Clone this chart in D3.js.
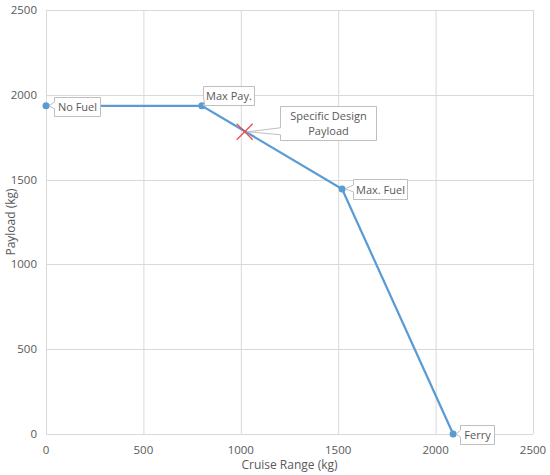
<!DOCTYPE html>
<html lang="en">
<head>
<meta charset="UTF-8">
<script src="https://d3js.org/d3.v7.min.js"></script>
<style>
body { margin: 0; background: #fff; }
text { font-family: "Open Sans", "Noto Sans", sans-serif; fill: #595959; }
</style>
</head>
<body>
<svg id="chart" width="550" height="475"></svg>
<script>
// payload-range points
var names = ["No Fuel", "Max Pay.", "Max. Fuel", "Ferry"]
var range = [0, 800, 1520, 2090]
var payload = [1935, 1935, 1445, 0]
var design = {name: "Specific Design\nPayload", range: 1020, payload: 1782}
var xTicks = [0, 500, 1000, 1500, 2000, 2500]
var yTicks = [0, 500, 1000, 1500, 2000, 2500]

// callout boxes: offset of box from the point (px), width, height
var boxes = [
    {dx: 8, dy: -9, w: 46, h: 19},
    {dx: 1, dy: -20, w: 51, h: 19},
    {dx: 11, dy: -10, w: 54, h: 20},
    {dx: 7, dy: -9, w: 34, h: 19}
]
var designBox = {dx: 35, dy: -26, w: 96, h: 34}

var svg = d3.select("#chart"),
    margin = {top: 10, right: 17, bottom: 41, left: 46},
    width = +svg.attr("width") - margin.left - margin.right,
    height = +svg.attr("height") - margin.top - margin.bottom

var x = d3.scaleLinear().domain([0, 2500]).range([margin.left, margin.left + width])
var y = d3.scaleLinear().domain([0, 2500]).range([margin.top + height, margin.top])

// grid
svg.append("g").selectAll("line").data(xTicks).join("line")
    .attr("x1", d => x(d) + 0.5).attr("x2", d => x(d) + 0.5)
    .attr("y1", y(2500)).attr("y2", y(0))
    .attr("stroke", "#d9d9d9")
svg.append("g").selectAll("line").data(yTicks).join("line")
    .attr("y1", d => Math.round(y(d)) + 0.5).attr("y2", d => Math.round(y(d)) + 0.5)
    .attr("x1", x(0)).attr("x2", x(2500))
    .attr("stroke", "#d9d9d9")

// tick labels
svg.append("g").selectAll("text").data(xTicks).join("text")
    .attr("x", d => x(d)).attr("y", y(0) + 20)
    .attr("text-anchor", "middle").attr("font-size", 11.5)
    .text(d => d)
svg.append("g").selectAll("text").data(yTicks).join("text")
    .attr("x", x(0) - 9).attr("y", d => y(d) + 4)
    .attr("text-anchor", "end").attr("font-size", 11.5)
    .text(d => d)

// axis titles
svg.append("text")
    .attr("x", x(1250)).attr("y", 469)
    .attr("text-anchor", "middle").attr("font-size", 12)
    .text("Cruise Range (kg)")
svg.append("text")
    .attr("transform", `translate(15,${y(1250)}) rotate(-90)`)
    .attr("text-anchor", "middle").attr("font-size", 12)
    .text("Payload (kg)")

// line + markers
var pts = range.map((r, i) => [x(r), y(payload[i])])
svg.append("path")
    .attr("d", d3.line()(pts))
    .attr("fill", "none").attr("stroke", "#5b9bd5").attr("stroke-width", 2.25)
svg.append("g").selectAll("circle").data(pts).join("circle")
    .attr("cx", d => d[0]).attr("cy", d => d[1]).attr("r", 3.5)
    .attr("fill", "#5b9bd5")

// design point
var dx0 = x(design.range), dy0 = y(design.payload)
svg.append("path")
    .attr("d", `M${dx0-8},${dy0-8}L${dx0+8},${dy0+8}M${dx0-8},${dy0+8}L${dx0+8},${dy0-8}`)
    .attr("stroke", "#ee4b4b").attr("stroke-width", 1.25)

// callout: box with pointer from its left edge to the point
function callout(px, py, b, lines) {
    var bx = Math.round(px + b.dx) + 0.5, by = Math.round(py + b.dy) + 0.5
    var y1 = Math.max(by, Math.min(by + b.h - 8, py - 4)), y2 = y1 + 7
    if (y2 > by + b.h) { y2 = by + b.h; y1 = y2 - 7 }
    var d = `M${bx},${by}H${bx + b.w}V${by + b.h}H${bx}V${y2}L${px + 3},${py}L${bx},${y1}Z`
    svg.append("path").attr("d", d)
        .attr("fill", "#fff").attr("stroke", "#bfbfbf").attr("stroke-width", 1)
    var t = svg.append("text").attr("text-anchor", "middle").attr("font-size", 11)
    lines.forEach((l, i) => {
        t.append("tspan").attr("x", bx + b.w / 2)
            .attr("y", by + b.h / 2 + 4 + (i - (lines.length - 1) / 2) * 15)
            .text(l)
    })
}
pts.forEach((p, i) => callout(p[0], p[1], boxes[i], [names[i]]))
callout(dx0, dy0, designBox, design.name.split("\n"))
</script>
</body>
</html>
